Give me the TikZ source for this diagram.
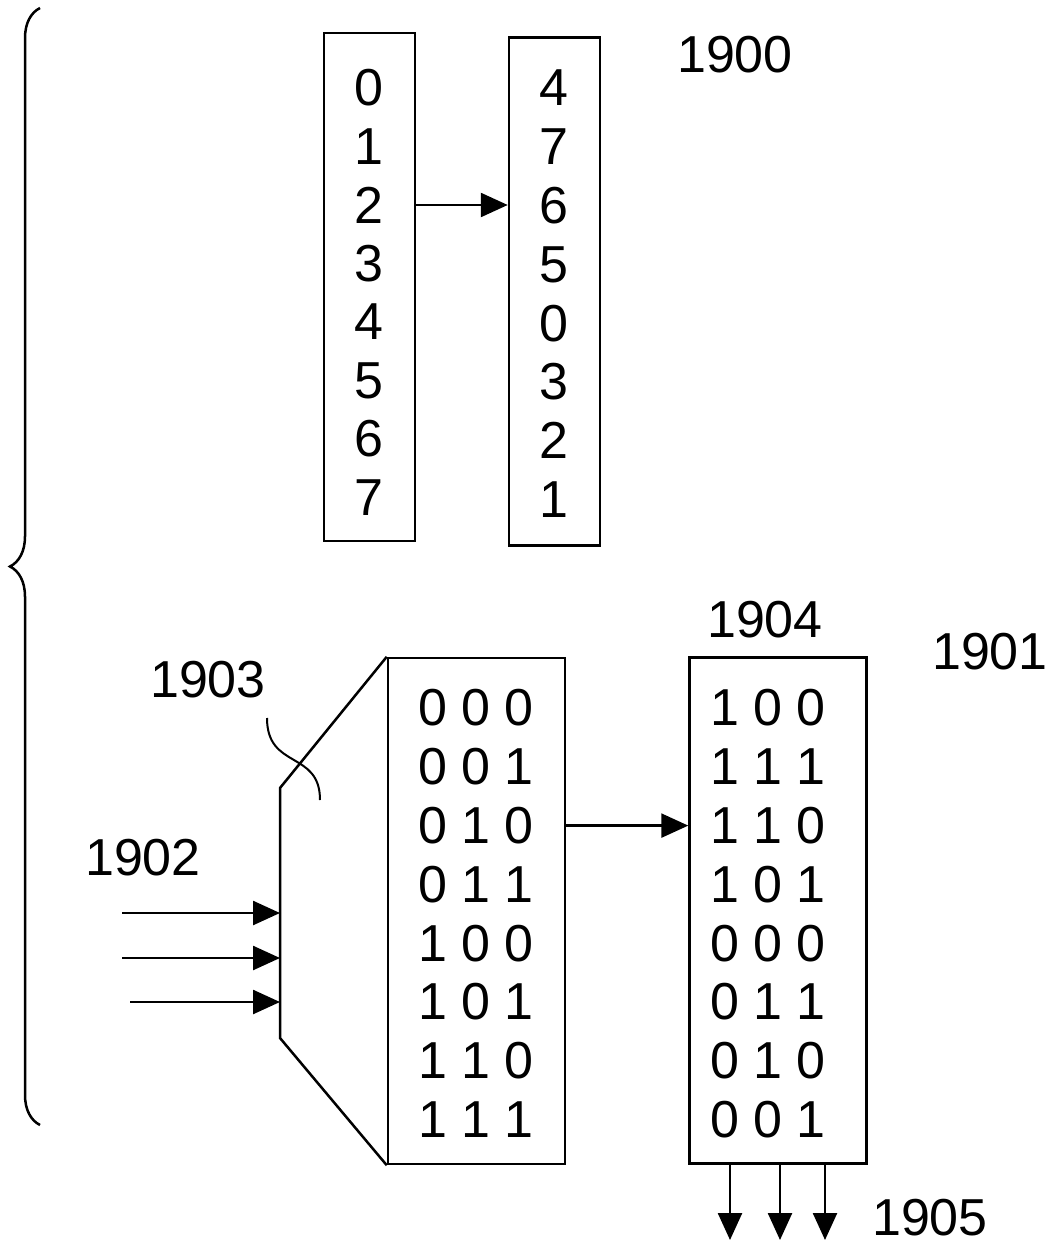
\documentclass[tikz,border=0pt]{standalone}
\usepackage{fontspec}
\setmainfont{Liberation Sans}
\usetikzlibrary{arrows.meta,decorations.pathreplacing}

\begin{document}
\begin{tikzpicture}[
  x=0.5pt, y=-0.5pt,
  line width=1.25pt,
  >={Triangle[length=13.5pt, width=12pt]},
  font=\fontsize{26}{30}\selectfont,
  narrowcol/.style={draw, inner sep=0pt, minimum width=45.5pt, minimum height=254pt},
  widecol/.style={draw, inner sep=0pt, minimum width=88.5pt, minimum height=253pt},
  lbl/.style={inner sep=0pt},
]
\useasboundingbox (0,0) rectangle (1050,1247);

% top: reordering of the indices 0..7
\node[narrowcol] (src) at (369.5, 287) {};
\node[narrowcol] (dst) at (554.5, 291.5) {};
\foreach \v [count=\i from 0] in {0,1,2,3,4,5,6,7}
  \node[lbl] (a\i) at (369, {88+58.5*\i}) {\v};
\foreach \v [count=\i from 0] in {4,7,6,5,0,3,2,1}
  \node[lbl] (b\i) at (554, {88+58.8*\i}) {\v};
\draw[->] (a2 -| src.east) -- (a2 -| dst.west);
\node[lbl] (n1900) at (735, 55) {1900};

% bottom: decoder, table and permuted table
\node[widecol] (tab)  at (476.5, 911) {};
\node[widecol] (perm) at (778, 910.5) {};
\foreach \v [count=\i from 0] in {0 0 0, 0 0 1, 0 1 0, 0 1 1, 1 0 0, 1 0 1, 1 1 0, 1 1 1}
  \node[lbl] (t\i) at (476, {708+58.8*\i}) {\v};
\foreach \v [count=\i from 0] in {1 0 0, 1 1 1, 1 1 0, 1 0 1, 0 0 0, 0 1 1, 0 1 0, 0 0 1}
  \node[lbl] (p\i) at (768, {708+58.8*\i}) {\v};
\draw[->] (t2 -| tab.east) -- (t2 -| perm.west);

\coordinate (dtop) at (280, 788);
\coordinate (dbot) at (280, 1038);
\draw (tab.north west) -- (dtop) -- (dbot) -- (tab.south west);

\foreach \n/\y/\xs in {1/913/122, 2/958/122, 3/1002/130} {
  \coordinate (in\n) at (\xs, \y);
  \draw[->] (in\n) -- (in\n -| dtop);
}
\foreach \n/\x in {1/730, 2/780, 3/825} {
  \coordinate (out\n) at (\x, 1240);
  \draw[->] (out\n |- perm.south) -- (out\n);
}

\node[lbl] (n1901) at (990, 652) {1901};
\node[lbl] (n1902) at (143, 858) {1902};
\node[lbl] (n1903) at (208, 680) {1903};
\node[lbl] (n1904) at (765, 620) {1904};
\node[lbl] (n1905) at (930, 1218) {1905};
\draw[line width=1pt] (267, 718) .. controls (267, 770) and (320, 750) .. (320, 800);

% brace round both parts
\draw[decorate, decoration={brace, amplitude=15pt}] (40, 1125) -- (40, 8);
\end{tikzpicture}
\end{document}
